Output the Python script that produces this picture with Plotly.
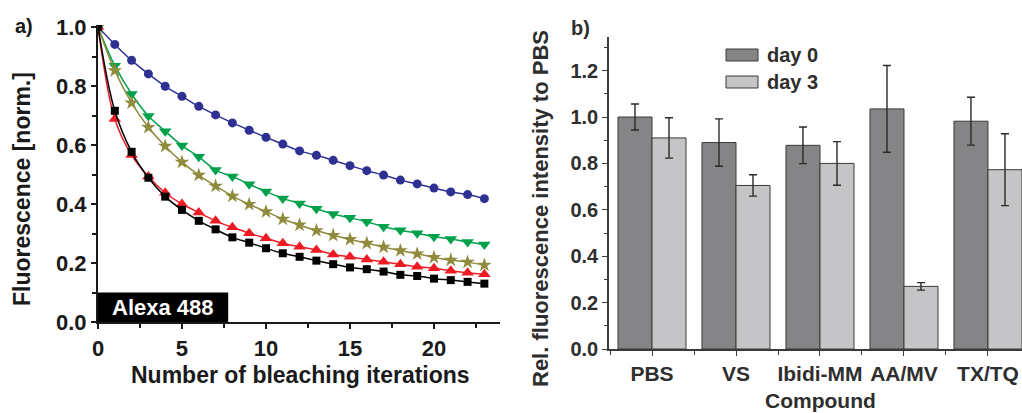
import plotly.graph_objects as go

W, H = 1022, 413

# ---------------- data: panel a ----------------
iterations = list(range(0, 24))
blue_circle = [1.0, 0.941, 0.887, 0.841, 0.799, 0.765, 0.731, 0.702, 0.675, 0.650, 0.626, 0.603,
               0.580, 0.565, 0.548, 0.530, 0.513, 0.498, 0.481, 0.468, 0.454, 0.441, 0.432, 0.418]
green_tri_down = [1.0, 0.869, 0.773, 0.698, 0.647, 0.598, 0.560, 0.515, 0.493, 0.467, 0.442, 0.419,
                  0.402, 0.384, 0.366, 0.353, 0.340, 0.323, 0.311, 0.301, 0.289, 0.281, 0.271, 0.263]
olive_star = [1.0, 0.852, 0.743, 0.660, 0.596, 0.542, 0.498, 0.461, 0.427, 0.399, 0.374, 0.349,
              0.329, 0.310, 0.294, 0.280, 0.267, 0.254, 0.242, 0.231, 0.219, 0.210, 0.203, 0.193]
red_tri_up = [1.0, 0.688, 0.566, 0.493, 0.438, 0.400, 0.371, 0.343, 0.321, 0.301, 0.284, 0.267,
              0.255, 0.244, 0.229, 0.221, 0.212, 0.204, 0.196, 0.187, 0.182, 0.174, 0.167, 0.162]
black_square = [1.0, 0.716, 0.577, 0.489, 0.425, 0.380, 0.343, 0.314, 0.287, 0.269, 0.250, 0.233,
                0.221, 0.208, 0.196, 0.185, 0.179, 0.171, 0.160, 0.156, 0.147, 0.142, 0.136, 0.130]

# ---------------- data: panel b ----------------
compounds = ["PBS", "VS", "Ibidi-MM", "AA/MV", "TX/TQ"]
day0 = [1.000, 0.890, 0.878, 1.035, 0.982]
day0_err = [0.056, 0.102, 0.079, 0.187, 0.103]
day3 = [0.910, 0.705, 0.800, 0.270, 0.773]
day3_err = [0.087, 0.046, 0.094, 0.016, 0.155]

left_ticks_x = [0, 5, 10, 15, 20]
left_ticks_y = [0.0, 0.2, 0.4, 0.6, 0.8, 1.0]
right_ticks_y = [0.0, 0.2, 0.4, 0.6, 0.8, 1.0, 1.2]


def px(x):
    return x / W


def py(y):
    return 1 - y / H


FONT = "Liberation Sans, Arial, sans-serif"
DARK = "#1a1a1a"
GRAY_TXT = "#2e2e2e"

fig = go.Figure()

series = [
    (blue_circle, "#2e3192", "circle", 9),
    (green_tri_down, "#00a14b", "triangle-down", 11),
    (olive_star, "#8f8a3c", "star", 11),
    (red_tri_up, "#ed1c24", "triangle-up", 11),
    (black_square, "#000000", "square", 8),
]
for vals, col, sym, sz in series:
    fig.add_trace(go.Scatter(
        x=iterations, y=vals, mode="lines+markers",
        line=dict(color=col, width=1.5, shape="spline", smoothing=1.0),
        marker=dict(color=col, symbol=sym, size=sz, line=dict(width=0)),
        xaxis="x", yaxis="y", showlegend=False, cliponaxis=True,
    ))

idx = list(range(len(compounds)))
fig.add_trace(go.Bar(
    x=idx, y=day0, name="day 0", xaxis="x2", yaxis="y2",
    marker=dict(color="#858588", line=dict(color="#3a3a3a", width=1)),
    error_y=dict(type="data", array=day0_err, color="#2a2a2a", thickness=1.4, width=4),
    showlegend=False,
))
fig.add_trace(go.Bar(
    x=idx, y=day3, name="day 3", xaxis="x2", yaxis="y2",
    marker=dict(color="#c5c5c7", line=dict(color="#3a3a3a", width=1)),
    error_y=dict(type="data", array=day3_err, color="#2a2a2a", thickness=1.4, width=4),
    showlegend=False,
))

left_font = dict(family=FONT, size=22, color=DARK, weight="bold")
right_font = dict(family=FONT, size=20, color=GRAY_TXT, weight="bold")
cat_font = dict(family=FONT, size=21, color=GRAY_TXT, weight="bold")

fig.update_layout(
    template="none",
    width=W, height=H,
    margin=dict(l=0, r=0, t=0, b=0, autoexpand=False),
    paper_bgcolor="white", plot_bgcolor="white",
    barmode="group", bargap=0.19, bargroupgap=0.0,
    xaxis=dict(
        domain=[px(98), px(500)], range=[0, 23.93], anchor="y", automargin=False,
        showline=True, linecolor=DARK, linewidth=2.2, showgrid=False, zeroline=False,
        tickmode="array", tickvals=left_ticks_x, ticks="outside", ticklen=5, tickwidth=2,
        tickcolor=DARK, tickfont=left_font,
        minor=dict(tickmode="linear", tick0=2.5, dtick=5, ticks="outside", ticklen=4,
                   tickwidth=1.6, tickcolor=DARK, showgrid=False),
    ),
    yaxis=dict(
        domain=[py(322), py(25)], range=[0, 1.0068], anchor="x", automargin=False,
        showline=True, linecolor=DARK, linewidth=2.2, showgrid=False, zeroline=False,
        tickmode="array", tickvals=left_ticks_y, tickformat=".1f",
        ticks="outside", ticklen=5, tickwidth=2, tickcolor=DARK, tickfont=left_font,
        minor=dict(tickmode="linear", tick0=0.1, dtick=0.2, ticks="outside", ticklen=4,
                   tickwidth=1.6, tickcolor=DARK, showgrid=False),
    ),
    xaxis2=dict(
        domain=[px(609), 1.0], range=[-0.512, 4.405], anchor="y2", automargin=False,
        showline=True, linecolor="#3a3a3a", linewidth=1.6, showgrid=False, zeroline=False,
        tickmode="array", tickvals=idx, ticktext=compounds,
        ticks="outside", ticklen=5, tickwidth=1.4, tickcolor="#3a3a3a", tickfont=cat_font,
        minor=dict(tickmode="linear", tick0=0.5, dtick=1, ticks="outside", ticklen=4,
                   tickwidth=1.2, tickcolor="#3a3a3a", showgrid=False),
    ),
    yaxis2=dict(
        domain=[py(349), py(37)], range=[0, 1.345], anchor="x2", automargin=False,
        showline=True, linecolor="#3a3a3a", linewidth=1.6, showgrid=False, zeroline=False,
        tickmode="array", tickvals=right_ticks_y, tickformat=".1f",
        ticks="outside", ticklen=5, tickwidth=1.4, tickcolor="#3a3a3a", tickfont=right_font,
        minor=dict(tickmode="linear", tick0=0.1, dtick=0.2, ticks="outside", ticklen=3,
                   tickwidth=1.2, tickcolor="#3a3a3a", showgrid=False),
    ),
)

# Alexa 488 label box (in data coords of panel a)
fig.add_shape(type="rect", xref="x", yref="y", x0=0, x1=7.75, y0=0, y1=0.1,
              fillcolor="black", line=dict(width=0), layer="above")
fig.add_annotation(xref="x", yref="y", x=3.87, y=0.05, text="<b>Alexa 488</b>",
                   showarrow=False, font=dict(family=FONT, size=22, color="white"))

# legend swatches for panel b
fig.add_shape(type="rect", xref="paper", yref="paper", x0=px(726), x1=px(758), y0=py(61), y1=py(49),
              fillcolor="#858588", line=dict(color="#3a3a3a", width=1))
fig.add_shape(type="rect", xref="paper", yref="paper", x0=px(726), x1=px(758), y0=py(88), y1=py(76),
              fillcolor="#c5c5c7", line=dict(color="#3a3a3a", width=1))

ann = [
    ("<b>a)</b>", 24, 26, 0, dict(family=FONT, size=20, color=DARK)),
    ("<b>b)</b>", 580, 28, 0, dict(family=FONT, size=20, color=GRAY_TXT)),
    ("<b>Fluorescence [norm.]</b>", 22, 189, -90, dict(family=FONT, size=23, color=DARK)),
    ("<b>Number of bleaching iterations</b>", 300, 375, 0, dict(family=FONT, size=23, color=DARK)),
    ("<b>Rel. fluorescence intensity to PBS</b>", 541, 209, -90, dict(family=FONT, size=22, color=GRAY_TXT)),
]
for text, x, y, ang, f in ann:
    fig.add_annotation(xref="paper", yref="paper", x=px(x), y=py(y), text=text, textangle=ang,
                       showarrow=False, xanchor="center", yanchor="middle", font=f)

fig.add_annotation(xref="paper", yref="paper", x=px(820), y=0.0, text="<b>Compound</b>",
                   showarrow=False, xanchor="center", yanchor="bottom", borderpad=0,
                   font=dict(family=FONT, size=21, color=GRAY_TXT))

for text, y in [("<b>day 0</b>", 55), ("<b>day 3</b>", 82)]:
    fig.add_annotation(xref="paper", yref="paper", x=px(765), y=py(y), text=text,
                       showarrow=False, xanchor="left", yanchor="middle",
                       font=dict(family=FONT, size=20, color=GRAY_TXT))

fig.write_html("out.html")
